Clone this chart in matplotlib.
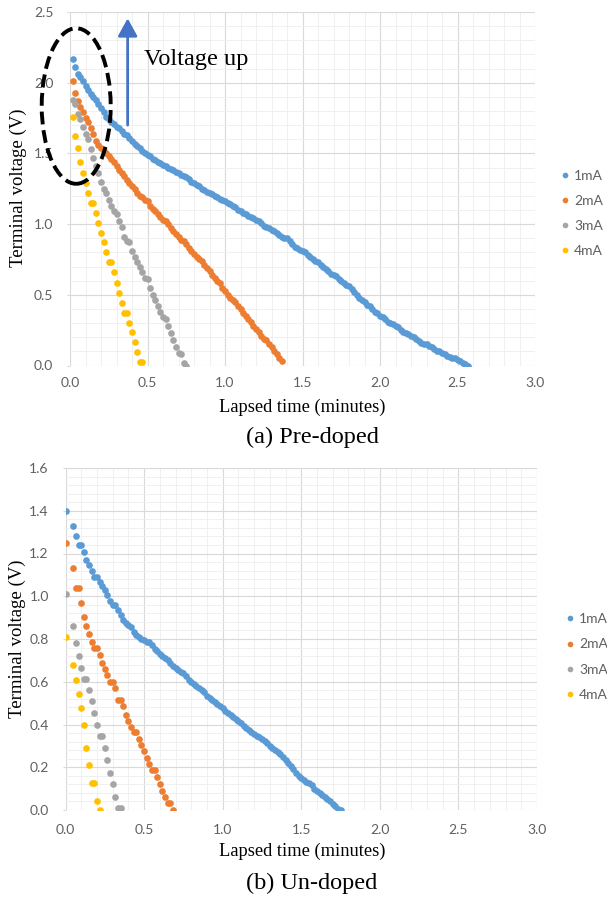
import numpy as np
import matplotlib.pyplot as plt
from matplotlib.patches import Ellipse
from matplotlib.ticker import MultipleLocator

W, H = 607, 898

currents = ["1mA", "2mA", "3mA", "4mA"]
colors = ["#5B9BD5", "#ED7D31", "#A5A5A5", "#FFC000"]

# (a) pre-doped: one reading per second, first reading at 1 s
pre_1ma = [2.17, 2.11, 2.06, 2.04, 2.01, 1.98, 1.95, 1.92, 1.90, 1.88,
           1.85, 1.82, 1.79, 1.76, 1.74, 1.72, 1.71, 1.69, 1.68, 1.66,
           1.64, 1.63, 1.61, 1.59, 1.57, 1.55, 1.54, 1.52, 1.50, 1.49,
           1.48, 1.46, 1.45, 1.44, 1.43, 1.42, 1.41, 1.40, 1.39, 1.38,
           1.37, 1.36, 1.35, 1.34, 1.33, 1.32, 1.30, 1.29, 1.28, 1.27,
           1.25, 1.24, 1.23, 1.22, 1.21, 1.20, 1.19, 1.18, 1.17, 1.16,
           1.15, 1.14, 1.13, 1.12, 1.10, 1.09, 1.08, 1.07, 1.06, 1.05,
           1.04, 1.03, 1.02, 1.01, 0.99, 0.98, 0.97, 0.96, 0.95, 0.94,
           0.92, 0.91, 0.90, 0.90, 0.88, 0.86, 0.84, 0.83, 0.82, 0.81,
           0.80, 0.78, 0.77, 0.75, 0.74, 0.73, 0.71, 0.70, 0.68, 0.67,
           0.65, 0.64, 0.63, 0.61, 0.60, 0.58, 0.57, 0.56, 0.54, 0.52,
           0.50, 0.48, 0.46, 0.45, 0.43, 0.42, 0.40, 0.38, 0.37, 0.35,
           0.34, 0.33, 0.31, 0.30, 0.29, 0.28, 0.27, 0.25, 0.24, 0.23,
           0.22, 0.21, 0.20, 0.19, 0.17, 0.16, 0.15, 0.15, 0.14, 0.13,
           0.12, 0.10, 0.10, 0.09, 0.08, 0.07, 0.06, 0.05, 0.05, 0.04,
           0.03, 0.02, 0.01, 0.00]
pre_2ma = [2.01, 1.93, 1.87, 1.83, 1.79, 1.75, 1.72, 1.68, 1.64, 1.59,
           1.56, 1.54, 1.52, 1.50, 1.48, 1.46, 1.44, 1.41, 1.38, 1.36,
           1.34, 1.31, 1.29, 1.27, 1.25, 1.22, 1.20, 1.19, 1.17, 1.16,
           1.13, 1.11, 1.09, 1.07, 1.05, 1.03, 1.02, 1.00, 0.97, 0.95,
           0.93, 0.91, 0.89, 0.88, 0.86, 0.83, 0.81, 0.79, 0.77, 0.75,
           0.74, 0.71, 0.69, 0.67, 0.64, 0.62, 0.60, 0.58, 0.55, 0.53,
           0.50, 0.48, 0.46, 0.45, 0.42, 0.40, 0.37, 0.35, 0.33, 0.31,
           0.28, 0.26, 0.24, 0.21, 0.19, 0.18, 0.15, 0.13, 0.10, 0.08,
           0.05, 0.03]
pre_3ma = [1.88, 1.85, 1.78, 1.74, 1.69, 1.64, 1.60, 1.53, 1.47, 1.41,
           1.36, 1.30, 1.25, 1.22, 1.17, 1.13, 1.09, 1.07, 1.02, 0.98,
           0.91, 0.88, 0.87, 0.81, 0.77, 0.73, 0.70, 0.66, 0.62, 0.61,
           0.55, 0.50, 0.46, 0.42, 0.38, 0.34, 0.33, 0.28, 0.23, 0.18,
           0.13, 0.09, 0.08, 0.02, 0.00]
pre_4ma = [1.755, 1.62, 1.54, 1.44, 1.36, 1.29, 1.22, 1.15, 1.15, 1.08,
           1.01, 0.94, 0.87, 0.80, 0.73, 0.73, 0.66, 0.58, 0.51, 0.44,
           0.37, 0.37, 0.30, 0.24, 0.165, 0.095, 0.025, 0.025]

# (b) un-doped: one reading per second from 0 s, nan where no reading was logged
nan = np.nan
un_1ma = [1.40, nan, nan, 1.33, 1.28, 1.24, 1.24, 1.205, 1.17, 1.146,
          1.118, 1.09, 1.09, 1.065, 1.05, 1.03, 1.006, 0.98, 0.96, 0.96,
          0.936, 0.91, 0.89, 0.875, 0.865, 0.855, 0.834, 0.82, 0.81, 0.80,
          0.795, 0.785, 0.785, 0.77, 0.755, 0.745, 0.73, 0.72, 0.71, 0.70,
          0.69, 0.675, 0.665, 0.655, 0.645, 0.64, 0.625, 0.61, 0.60, 0.59,
          0.58, 0.57, 0.56, 0.55, 0.535, 0.525, 0.515, 0.505, 0.495, 0.485,
          0.475, 0.465, 0.455, 0.445, 0.437, 0.425, 0.415, 0.405, 0.395, 0.385,
          0.375, 0.365, 0.355, 0.345, 0.34, 0.33, 0.325, 0.315, 0.30, 0.29,
          0.28, 0.27, 0.26, 0.25, 0.235, 0.22, 0.205, 0.19, 0.175, 0.16,
          0.15, 0.14, 0.13, 0.125, 0.115, 0.10, 0.09, 0.08, 0.07, 0.06,
          0.05, 0.04, 0.03, 0.02, 0.005, 0.0]
un_2ma = [1.25, nan, nan, 1.13, 1.04, 1.04, 0.97, 0.905, 0.86, 0.825,
          0.787, 0.756, 0.756, 0.725, 0.69, 0.658, 0.632, 0.60, 0.60, 0.569,
          0.515, 0.515, 0.485, 0.445, 0.416, 0.39, 0.365, 0.365, 0.334, 0.303,
          0.277, 0.245, 0.217, 0.186, 0.186, 0.155, 0.121, 0.09, 0.062, 0.031,
          0.031, 0.0]
un_3ma = [1.01, nan, nan, 0.86, 0.78, 0.72, 0.665, 0.615, 0.615, 0.56,
          0.51, 0.455, 0.40, 0.345, 0.345, 0.29, 0.235, 0.175, 0.12, 0.06,
          0.01, 0.01]
un_4ma = [0.81, nan, nan, 0.68, 0.61, 0.545, 0.475, 0.40, 0.29, 0.21,
          0.125, 0.125, 0.04, 0.0]

pre_series = [pre_1ma, pre_2ma, pre_3ma, pre_4ma]
un_series = [un_1ma, un_2ma, un_3ma, un_4ma]

TICK_GRAY = "#606060"
SERIF = "Liberation Serif"
SANS = "Lato"


def px(x, y):
    return x / W, 1 - y / H


def panel(ax, series, first_sec, ymax, ymajor, legend_x, legend_y):
    handles = []
    for vals, c in zip(series, colors):
        v = np.array(vals, dtype=float)
        t = (np.arange(len(v)) + first_sec) / 60.0
        h, = ax.plot(t, v, ls="none", marker="o", ms=4.8, mew=0, color=c)
        handles.append(h)

    ax.set_xlim(0, 3.0)
    ax.set_ylim(0, ymax)
    ax.xaxis.set_major_locator(MultipleLocator(0.5))
    ax.xaxis.set_minor_locator(MultipleLocator(0.1))
    ax.yaxis.set_major_locator(MultipleLocator(ymajor))
    ax.yaxis.set_minor_locator(MultipleLocator(ymajor / 5))
    ax.xaxis.set_major_formatter(lambda v, p: f"{v:.1f}")
    ax.yaxis.set_major_formatter(lambda v, p: f"{v:.1f}")

    ax.grid(which="major", color="#D9D9D9", lw=0.8)
    ax.grid(which="minor", color="#EEEEEE", lw=0.6)
    ax.set_axisbelow(True)
    for s in ax.spines.values():
        s.set_visible(False)
    ax.tick_params(which="both", length=0)
    ax.tick_params(axis="y", which="major", length=2.2, width=0.8, color="#D9D9D9", pad=9.8)
    ax.tick_params(axis="x", pad=8)
    for lab in ax.get_xticklabels() + ax.get_yticklabels():
        lab.set_family(SANS)
        lab.set_fontsize(10)
        lab.set_color(TICK_GRAY)

    leg = ax.legend(handles, currents, loc="center left",
                    bbox_to_anchor=px(legend_x, legend_y), bbox_transform=ax.figure.transFigure,
                    frameon=False, prop={"family": SANS, "size": 10},
                    handlelength=0.6, handletextpad=0.35, labelspacing=0.95,
                    borderpad=0, borderaxespad=0, markerscale=0.85)
    for txt in leg.get_texts():
        txt.set_color(TICK_GRAY)


fig = plt.figure(figsize=(W / 100, H / 100), dpi=100)

ax1 = fig.add_axes([70 / W, 1 - 365.5 / H, 465 / W, 353.5 / H])
panel(ax1, pre_series, 1, 2.5, 0.5, 561, 213.5)

ax2 = fig.add_axes([65.5 / W, 1 - 810 / H, 471.5 / W, 342 / H])
panel(ax2, un_series, 0, 1.6, 0.2, 566, 657)
ax2.tick_params(axis="x", pad=10)

# axis titles and captions
for ycen, xcen, xl_y, cap_y, cap in [(188, 18, 407, 437, "(a) Pre-doped"),
                                     (639, 17, 851, 883, "(b) Un-doped")]:
    fig.text(*px(xcen, ycen), "Terminal voltage (V)", rotation=90, ha="center", va="center",
             family=SERIF, fontsize=13.5)
    fig.text(*px(302, xl_y), "Lapsed time (minutes)", ha="center", va="center",
             family=SERIF, fontsize=13.3)
    fig.text(*px(312, cap_y), cap, ha="center", va="center", family=SERIF, fontsize=17.5)

# annotation on the pre-doped panel
ell = Ellipse((0.04, 1.835), 0.445, 1.10, fill=False, ec="black", lw=2.8,
              ls=(0, (3.3, 1.5)), clip_on=False, zorder=5)
ax1.add_patch(ell)
ax1.annotate("", xy=(0.372, 2.455), xytext=(0.372, 1.70),
             arrowprops=dict(arrowstyle="-|>,head_length=0.4,head_width=0.22",
                             color="#4472C4", lw=2, mutation_scale=27,
                             shrinkA=0, shrinkB=0),
             annotation_clip=False)
fig.text(*px(144, 65), "Voltage up", ha="left", va="baseline", family=SERIF, fontsize=17.5)

fig.savefig("out.png", dpi=100)
